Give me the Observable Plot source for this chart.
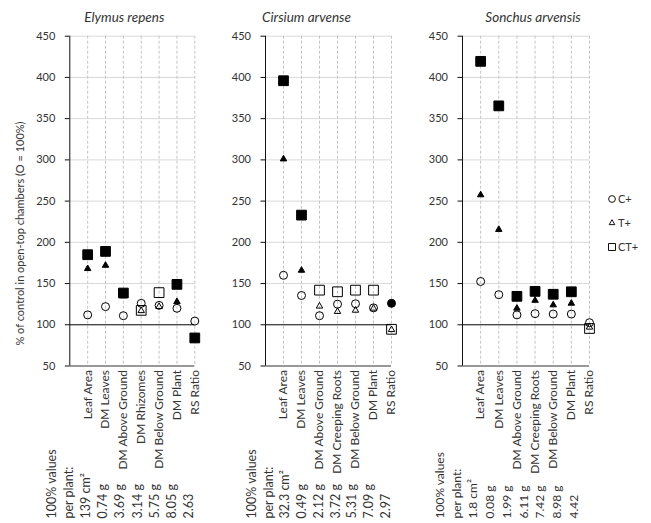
<!DOCTYPE html>
<html><head><meta charset="utf-8">
<script src="https://cdn.jsdelivr.net/npm/d3@7"></script>
<script src="https://cdn.jsdelivr.net/npm/@observablehq/plot@0.6"></script>
<style>
body{margin:0;background:#fff;}
#chart{position:relative;width:651px;height:523px;font-family:Lato,sans-serif;}
#chart > div, #chart > svg{position:absolute;top:0;}
</style></head><body><div id="chart"></div>
<script>
// ---- data ----
const seriesNames = ["C+", "T+", "CT+"];
const yTicks = [50, 100, 150, 200, 250, 300, 350, 400, 450];
const yLabel = "% of control in open-top chambers (O = 100%)";

const titleElymus = "Elymus repens";
const catsElymus = ["Leaf Area", "DM Leaves", "DM Above Ground", "DM Rhizomes", "DM Below Ground", "DM Plant", "RS Ratio"];
const elymusC  = [112, 122, 111, 126, 123.5, 120, 104.5];
const elymusT  = [168, 172, 135, 117, 122, 128, 84];
const elymusCT = [185, 189, 138.5, 117.5, 139, 149, 84];
const elymusCSig  = [0, 0, 0, 0, 0, 0, 0];
const elymusTSig  = [1, 1, 1, 0, 0, 1, 1];
const elymusCTSig = [1, 1, 1, 0, 0, 1, 1];
const basisElymus = ["100% values", "per plant:", "139 cm²", "0.74 g", "3.69 g", "3.14 g", "5.75 g", "8.05 g", "2.63"];

const titleCirsium = "Cirsium arvense";
const catsCirsium = ["Leaf Area", "DM Leaves", "DM Above Ground", "DM Creeping Roots", "DM Below Ground", "DM Plant", "RS Ratio"];
const cirsiumC  = [160, 135.5, 111, 125, 125.5, 120.5, 126];
const cirsiumT  = [301, 166, 122.5, 116, 117.5, 120, 94];
const cirsiumCT = [396, 233, 142, 140, 142, 142, 94.5];
const cirsiumCSig  = [0, 0, 0, 0, 0, 0, 1];
const cirsiumTSig  = [1, 1, 0, 0, 0, 0, 0];
const cirsiumCTSig = [1, 1, 0, 0, 0, 0, 0];
const basisCirsium = ["100% values", "per plant:", "32.3 cm²", "0.49 g", "2.12 g", "3.72 g", "5.31 g", "7.09 g", "2.97"];

const titleSonchus = "Sonchus arvensis";
const catsSonchus = ["Leaf Area", "DM Leaves", "DM Above Ground", "DM Creeping Roots", "DM Below Ground", "DM Plant", "RS Ratio"];
const sonchusC  = [152.5, 136.5, 112, 113.5, 113, 113, 102.5];
const sonchusT  = [257.5, 215.5, 120, 129.5, 124, 126, 97];
const sonchusCT = [419.5, 365.5, 134.5, 140.5, 137, 140, 95.5];
const sonchusCSig  = [0, 0, 0, 0, 0, 0, 0];
const sonchusTSig  = [1, 1, 1, 1, 1, 1, 0];
const sonchusCTSig = [1, 1, 1, 1, 1, 1, 0];
const basisSonchus = ["100% values", "per plant:", "1.8 cm²", "0.08 g", "1.99 g", "6.11 g", "7.42 g", "8.98 g", "4.42"];

// ---- layout ----
const H = 523, TOP = 35.7, BOTTOM = 365.5;
const symbolOf = {"C+": "circle", "T+": "triangle", "CT+": "square"};
const sizeOf = {"C+": 4, "T+": 2.4, "CT+": 5.5};
const TEXT = "#333";

const panels = [
  {left: 0, width: 200, ml: 69.3, mr: 5.7, title: titleElymus, titleDx: -8, cats: catsElymus,
   values: [elymusC, elymusT, elymusCT], sig: [elymusCSig, elymusTSig, elymusCTSig],
   basis: basisElymus, basisCenter: 118.5, basisLH: 17.1, basisFS: 12.5, ylabel: true},
  {left: 200, width: 200, ml: 65, mr: 9, title: titleCirsium, titleDx: -22, cats: catsCirsium,
   values: [cirsiumC, cirsiumT, cirsiumCT], sig: [cirsiumCSig, cirsiumTSig, cirsiumCTSig],
   basis: basisCirsium, basisCenter: 117, basisLH: 16.7, basisFS: 12.5},
  {left: 400, width: 195, ml: 62, mr: 6, title: titleSonchus, titleDx: 7, cats: catsSonchus,
   values: [sonchusC, sonchusT, sonchusCT], sig: [sonchusCSig, sonchusTSig, sonchusCTSig],
   basis: basisSonchus, basisCenter: 105, basisLH: 16.7, basisFS: 12}
];

const chart = document.getElementById("chart");

for (const p of panels) {
  const rows = [];
  seriesNames.forEach((s, k) => p.values[k].forEach((v, i) => rows.push({i, v, s, filled: p.sig[k][i] === 1})));
  const idx = d3.range(p.cats.length);
  const dotMarks = [];
  for (const s of seriesNames) {
    const common = {x: "i", y: "v", symbol: symbolOf[s], r: sizeOf[s], stroke: "black", strokeWidth: 1};
    dotMarks.push(Plot.dot(rows.filter(d => d.s === s && !d.filled), {...common, fill: "none"}));
    dotMarks.push(Plot.dot(rows.filter(d => d.s === s && d.filled), {...common, fill: "black"}));
  }
  const marks = [
    Plot.gridY(yTicks, {stroke: "#d9d9d9", strokeOpacity: 1}),
    Plot.gridX(idx, {stroke: "#c4c4c4", strokeOpacity: 1, strokeDasharray: "3,2"}),
    Plot.ruleY([100], {stroke: "#111", strokeWidth: 1}),
    Plot.ruleY([50], {stroke: "#444", strokeWidth: 1}),
    Plot.ruleX([-1], {stroke: "#111", strokeWidth: 1}),
    Plot.axisY({ticks: yTicks, tickSize: 4.5, tickPadding: 10, label: null, fontSize: 11, stroke: "#111", fill: TEXT}),
    Plot.axisX({ticks: idx, tickFormat: i => p.cats[i], tickRotate: -90, tickSize: 0, tickPadding: 4, label: null, fontSize: 12, fill: TEXT}),
    ...dotMarks,
    Plot.text([p.title], {frameAnchor: "top", lineAnchor: "middle", textAnchor: "middle", dx: p.titleDx, dy: -19,
      fontStyle: "italic", fontSize: 13.5, fill: TEXT}),
    Plot.text([p.basis.join("\n")], {frameAnchor: "bottom-left", lineAnchor: "middle", textAnchor: "start",
      dx: p.basisCenter - p.ml, dy: 518 - BOTTOM,
      rotate: -90, lineHeight: p.basisLH / p.basisFS, fontSize: p.basisFS, fill: TEXT})
  ];
  if (p.ylabel) {
    marks.push(Plot.text([yLabel], {frameAnchor: "left", lineAnchor: "middle", textAnchor: "middle",
      dx: 20 - p.ml, dy: 233 - (TOP + BOTTOM) / 2, rotate: -90, fontSize: 11, fill: TEXT}));
  }
  const svg = Plot.plot({
    width: p.width, height: H,
    marginLeft: p.ml, marginRight: p.mr, marginTop: TOP, marginBottom: H - BOTTOM,
    x: {type: "linear", domain: [-1, p.cats.length - 1]},
    y: {domain: [50, 450]},
    style: {fontFamily: "Lato, sans-serif", fontSize: "11px", color: TEXT, background: "transparent", overflow: "visible"},
    marks
  });
  svg.style.position = "absolute";
  svg.style.left = p.left + "px";
  svg.style.top = "0px";
  chart.appendChild(svg);
}

// ---- legend ----
const legend = d3.select(chart).append("svg")
  .attr("width", 56).attr("height", H)
  .style("left", "595px").style("top", "0px").style("position", "absolute")
  .style("font-family", "Lato, sans-serif").style("font-size", "11px");
const legSym = {"C+": d3.symbolCircle, "T+": d3.symbolTriangle, "CT+": d3.symbolSquare};
const legSize = {"C+": 36, "T+": 14, "CT+": 49};
const legY = d3.scalePoint().domain(seriesNames).range([199, 247]);
const g = legend.selectAll("g").data(seriesNames).join("g")
  .attr("transform", d => `translate(17,${legY(d)})`);
g.append("path").attr("d", d => d3.symbol(legSym[d], legSize[d])())
  .attr("fill", "none").attr("stroke", "#111").attr("stroke-width", 1);
g.append("text").attr("x", 6).attr("dy", "0.35em").attr("fill", TEXT).text(d => d);
</script>
</body></html>
